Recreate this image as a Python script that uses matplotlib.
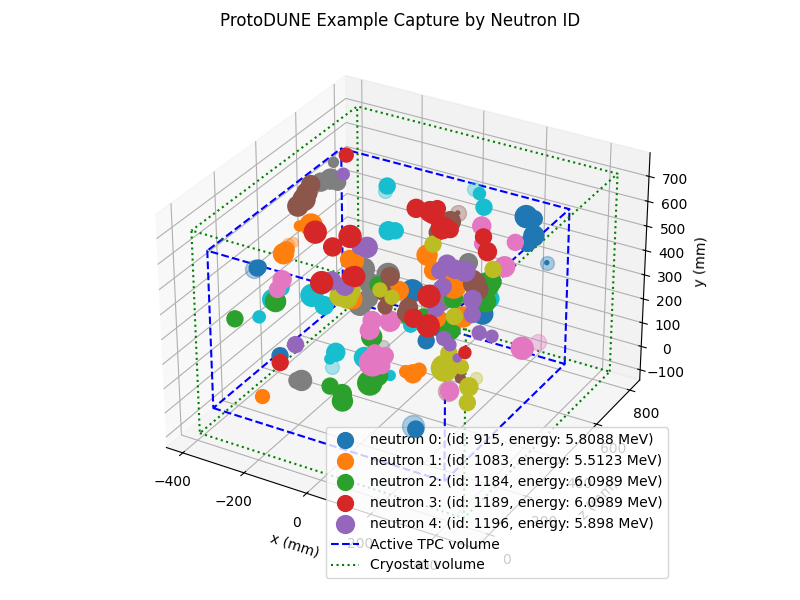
import matplotlib
matplotlib.use("Agg")
import matplotlib.pyplot as plt
import numpy as np

labels = ["neutron 0: (id: 915, energy: 5.8088 MeV)", "neutron 1: (id: 1083, energy: 5.5123 MeV)",
          "neutron 2: (id: 1184, energy: 6.0989 MeV)", "neutron 3: (id: 1189, energy: 6.0989 MeV)",
          "neutron 4: (id: 1196, energy: 5.898 MeV)", "neutron 5", "neutron 6", "neutron 7", "neutron 8", "neutron 9"]
tpc_x = [-347, 380]
tpc_y = [9, 643]
tpc_z = [5, 665]
cryo_x = [-381, 451]
cryo_y = [-95, 722]
cryo_z = [-15, 805]

# capture hits per neutron (mm), e is marker area
x0 = [-348, -341, 264, 289, 289, 270, 331, -213, 241, 302, 84, 215, 187, 142]
y0 = [424, 430, 592, 592, 524, 486, 430, 185, 408, 412, 424, 55, 330, 435]
z0 = [235, 235, 635, 635, 635, 635, 635, 135, 235, 335, 335, 135, 235, 335]
e0 = [130, 100, 250, 132, 207, 132, 8, 132, 298, 207, 250, 132, 132, 132]

x1 = [-274, -261, -252, -236, -274, -165, 206, 225, 184, 43, 11, 299, 212, 91, 219, 4, -114, -108]
y1 = [-8, 513, 532, 573, 556, 389, 275, 297, 275, 410, 411, 467, 490, 442, 433, 377, 478, 320]
z1 = [135, 235, 235, 335, 335, 435, 135, 135, 135, 335, 535, 235, 335, 435, 235, 335, 335, 335]
e1 = [100, 207, 132, 250, 52, 207, 168, 100, 75, 168, 207, 207, 298, 168, 168, 132, 168, 207]

x2 = [-357, -223, 11, 49, 49, 72, 97, 17, 257, 254, 260, 187, 123, -24, 273, -18, 212, 120]
y2 = [281, 401, 220, 205, 175, 185, 225, 281, 445, 376, 402, 410, 409, 408, 463, 402, 438, 328]
z2 = [135, 135, 35, 35, 35, 135, 135, 235, 435, 435, 235, 235, 235, 335, 435, 335, 335, 335]
e2 = [132, 207, 132, 168, 207, 298, 207, 207, 298, 207, 207, 132, 132, 132, 168, 100, 168, 168]

x3 = [-343, -223, -175, -232, -24, 20, 43, 59, 84, 30, 132, 145, -213, -140, -98, 363, 136, 148, 193, -108]
y3 = [605, 549, 485, 422, 588, 590, 610, 539, 540, 586, 464, 408, 157, 441, 415, 420, 421, 405, 392, 412]
z3 = [685, 335, 435, 435, 535, 535, 535, 535, 535, 535, 635, 635, 135, 235, 335, 135, 335, 235, 235, 335]
e3 = [100, 250, 250, 168, 168, 207, 132, 250, 132, 207, 132, 168, 132, 250, 207, 75, 250, 168, 250, 168]

x4 = [-322, -120, -143, -162, -108, 75, 100, 132, 52, 292, 331, 260, 241, 340, 180, 270, 158, -130, 174, 270]
y4 = [564, 460, 456, 250, 460, 397, 385, 388, 361, 333, 334, 342, 360, 390, 476, 458, 380, 364, 466, 398]
z4 = [635, 435, 435, 135, 235, 535, 535, 535, 535, 335, 335, 235, 235, 135, 335, 335, 335, 335, 335, 335]
e4 = [75, 207, 132, 132, 168, 168, 168, 207, 132, 100, 75, 75, 100, 33, 132, 168, 132, 168, 132, 132]

x5 = [-333, -356, -344, -346, 43, 84, -8, -2, 123, 219, 350, -47, 107, 286, 270, 72]
y5 = [609, 541, 549, 572, 514, 572, 385, 327, 417, 437, 315, 368, 615, 503, 538, 352]
z5 = [485, 485, 435, 485, 535, 535, 335, 335, 235, 435, 135, 435, 535, 335, 335, 335]
e5 = [168, 250, 207, 207, 132, 207, 132, 100, 132, 250, 52, 168, 8, 207, 168, 168]

x6 = [-200, -216, 369, 232, 200, 126, 126, 81, 110, 72, 81, 136, 88, 318, -2, -44]
y6 = [497, 452, 231, 477, 366, 506, 434, 270, 270, 396, 439, 457, 313, 250, 127, 213]
z6 = [135, 135, 435, 635, 635, 635, 635, 135, 135, 135, 135, 135, 135, 135, 335, 335]
e6 = [168, 132, 250, 132, 207, 168, 100, 350, 132, 168, 168, 207, 132, 168, 132, 100]

x7 = [-354, -300, -332, -277, -145, -160, -133, -143, -111, -63, -117, -82, 91, 142, 174, 8, 222]
y7 = [602, 612, 589, 607, 110, 104, 367, 332, 315, 331, 253, 308, 374, 427, 418, 462, 542]
z7 = [635, 535, 535, 535, 135, 135, 435, 435, 435, 435, 435, 335, 535, 535, 335, 335, 335]
e7 = [52, 207, 168, 132, 207, 132, 250, 207, 207, 298, 168, 250, 168, 168, 207, 250, 207]

x8 = [-124, -146, 30, 164, 302, 315, 353, 376, 372, 273, -18, -114, 20]
y8 = [318, 319, 462, 342, 335, 400, 360, 290, 225, 459, 390, 350, 374]
z8 = [335, 335, 535, 635, 135, 135, 135, 135, 135, 235, 335, 335, 335]
e8 = [207, 207, 132, 132, 350, 132, 100, 168, 132, 132, 100, 207, 100]

x9 = [-178, -175, -152, 89, 132, -277, -232, -204, -172, -133, -34, -53, 56, 267, 139, 136]
y9 = [564, 381, 389, 593, 584, 319, 406, 464, 378, 351, 268, 234, 282, 393, 374, 241]
z9 = [635, 635, 635, 685, 635, 135, 135, 135, 235, 235, 135, 135, 135, 435, 235, 135]
e9 = [132, 168, 132, 75, 132, 75, 207, 132, 250, 168, 168, 52, 207, 168, 100, 52]

all_x = [x0, x1, x2, x3, x4, x5, x6, x7, x8, x9]
all_y = [y0, y1, y2, y3, y4, y5, y6, y7, y8, y9]
all_z = [z0, z1, z2, z3, z4, z5, z6, z7, z8, z9]
all_e = [e0, e1, e2, e3, e4, e5, e6, e7, e8, e9]

# the paler hits, with the neutron each belongs to
pale_n = [0, 0, 0, 1, 1, 5, 5, 6, 6, 7, 8, 9, 9, 9, 9]
pale_x = [-357, 331, 205, -245, -229, 107, 312, 363, -8, 52, 340, -184, 73, -47, -287]
pale_y = [417, 430, 65, 558, 571, 615, 250, 185, 445, 257, 240, 542, 608, 204, 316]
pale_z = [235, 635, 135, 235, 235, 535, 135, 535, 335, 235, 235, 635, 685, 135, 135]
pale_e = [168, 100, 250, 75, 52, 132, 207, 132, 100, 75, 75, 100, 100, 100, 33]


def draw_box(ax, xr, yr, zr, style, color, label):
    xs = [xr[0], xr[1], xr[1], xr[0], xr[0], xr[0], xr[1], xr[1], xr[0], xr[0]]
    zs = [zr[0], zr[0], zr[1], zr[1], zr[0], zr[0], zr[0], zr[1], zr[1], zr[0]]
    ys = [yr[0]] * 5 + [yr[1]] * 5
    ax.plot(xs, zs, ys, style, color=color, label=label)
    for i, j in [(1, 6), (2, 7), (3, 8)]:
        ax.plot([xs[i], xs[j]], [zs[i], zs[j]], [ys[i], ys[j]], style, color=color)


fig = plt.figure(figsize=(8, 6))
ax = fig.add_axes([0.0, 0.028, 1.0, 0.917], projection="3d")
for i in range(10):
    ax.scatter(all_x[i], all_z[i], all_y[i], s=all_e[i], color="C%d" % i, alpha=1.0,
               depthshade=False, label=labels[i])
for i in range(len(pale_n)):
    ax.scatter([pale_x[i]], [pale_z[i]], [pale_y[i]], s=pale_e[i], color="C%d" % pale_n[i],
               alpha=0.35, depthshade=False)
draw_box(ax, tpc_x, tpc_y, tpc_z, "--", "blue", "Active TPC volume")
draw_box(ax, cryo_x, cryo_y, cryo_z, ":", "green", "Cryostat volume")
ax.set_xlim(-454, 519, view_margin=0)
ax.set_ylim(-71, 861, view_margin=0)
ax.set_zlim(-143.75, 793.75, view_margin=0)
ax.set_yticks([0, 200, 400, 600, 800])
ax.set_xlabel("x (mm)")
ax.set_ylabel("z (mm)")
ax.set_zlabel("y (mm)")
fig.suptitle("ProtoDUNE Example Capture by Neutron ID")
line_handles, line_labels = ax.get_legend_handles_labels()
keep = [j for j, l in enumerate(line_labels) if not l.startswith("neutron") or "id:" in l]
leg = ax.legend([line_handles[j] for j in keep], [line_labels[j] for j in keep],
                loc="lower right", bbox_to_anchor=(0.844, 0.025), bbox_transform=fig.transFigure)
for j in range(4):
    leg.legend_handles[j].set_sizes([130])
leg.legend_handles[4].set_sizes([165])
fig.savefig("out.png", dpi=100)
